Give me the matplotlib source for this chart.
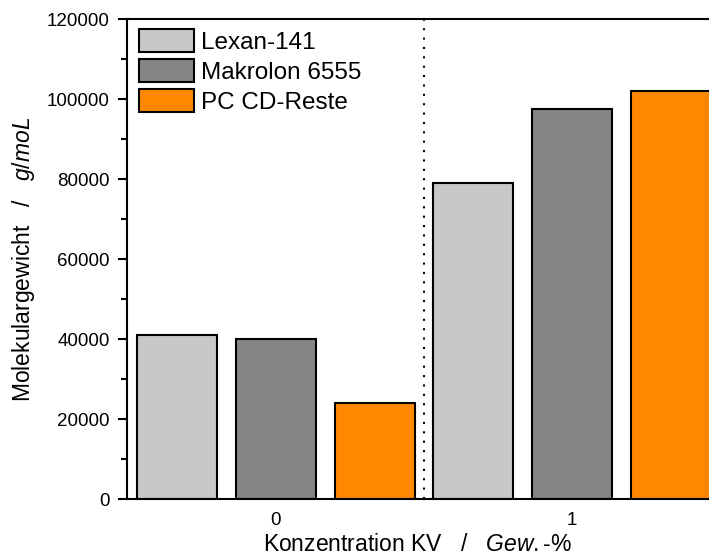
import matplotlib.pyplot as plt
import numpy as np
from matplotlib.ticker import MultipleLocator

plt.rcParams["font.family"] = ["Liberation Sans", "DejaVu Sans"]
plt.rcParams["mathtext.fontset"] = "custom"
plt.rcParams["mathtext.it"] = "Liberation Sans:italic"
plt.rcParams["mathtext.rm"] = "Liberation Sans"

groups = ["0", "1"]
series = ["Lexan-141", "Makrolon 6555", "PC CD-Reste"]
lexan = [41000, 79000]
makrolon = [40000, 97500]
pc_cd = [24000, 102000]
colors = ["#C8C8C8", "#858585", "#FF8800"]

x = np.arange(len(groups))
offset = 0.334
width = 0.27

fig = plt.figure(figsize=(7.09, 5.59), dpi=100)
ax = fig.add_axes([0.179, 0.107, 0.821, 0.859])

for i, (vals, name, col) in enumerate(zip([lexan, makrolon, pc_cd], series, colors)):
    ax.bar(x + (i - 1) * offset, vals, width, color=col, edgecolor="black",
           linewidth=1.5, label=name, zorder=2)

ax.axvline(0.5, color="black", linestyle=(0, (1, 3.5)), linewidth=1.5, zorder=1)

ax.set_xlim(-0.503, 1.463)
ax.set_ylim(0, 120000)
ax.set_xticks(x, groups)
ax.yaxis.set_major_locator(MultipleLocator(20000))
ax.yaxis.set_minor_locator(MultipleLocator(10000))
ax.tick_params(axis="x", length=0, labelsize=13.5, pad=9)
ax.tick_params(axis="y", which="major", length=6.5, width=1.5, labelsize=13.5,
               direction="out", pad=6)
ax.tick_params(axis="y", which="minor", length=4, width=1.5, direction="out")
for s in ["left", "bottom", "top"]:
    ax.spines[s].set_linewidth(1.5)
ax.spines["right"].set_visible(False)

ax.set_xlabel("Konzentration KV   /   $\\it{Gew.\u2010\\%}$", fontsize=16.5, labelpad=3)
ax.set_ylabel(r"Molekulargewicht   /   $\it{g/moL}$", fontsize=16.5, labelpad=7)

ax.legend(loc="upper left", bbox_to_anchor=(-0.006, 1.012), frameon=False,
          fontsize=17.5, handlelength=2.25, handleheight=1.1, labelspacing=0.2,
          handletextpad=0.3, borderaxespad=0.25)

fig.savefig("out.png", dpi=100, facecolor="white")
